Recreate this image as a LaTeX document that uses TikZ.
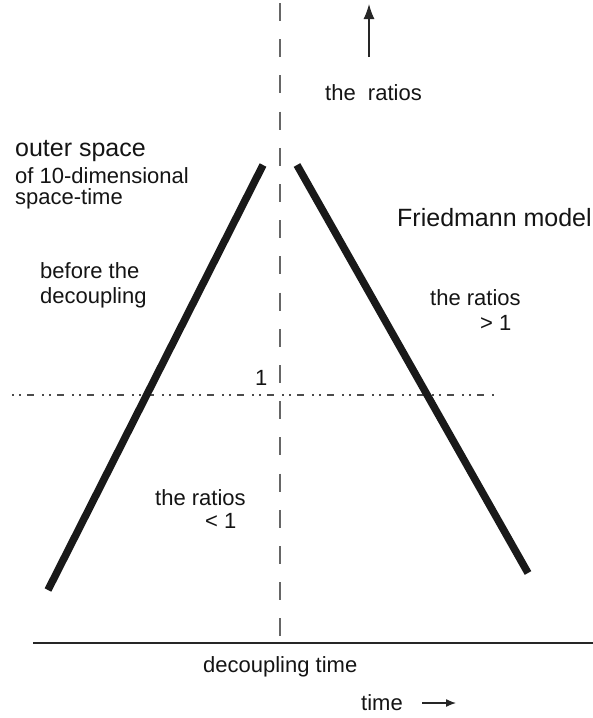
\documentclass[tikz,border=0pt]{standalone}
\usepackage{fontspec}
\setmainfont{Liberation Sans}
\usetikzlibrary{arrows.meta}
\begin{document}
\begin{tikzpicture}[x=1pt,y=-1pt,
  lbl/.style={anchor=base west,inner sep=0pt,font=\fontsize{22}{24}\selectfont,text=black!92},
  biglbl/.style={lbl,font=\fontsize{25}{28}\selectfont},
  thick line/.style={line width=7.5pt,black!90},
  axis dash/.style={line width=1.5pt,black!60,dash pattern=on 18pt off 18.2pt},
  dashdot/.style={line width=1.4pt,black!70,dash pattern=on 1.5pt off 5.5pt on 1.5pt off 6.5pt on 7pt off 8pt},
  baseline line/.style={line width=1.3pt,black!85},
  arrowline/.style={line width=1.3pt,black!85}]
\useasboundingbox (0,0) rectangle (593,718);
% coordinates
\coordinate (vtop) at (280,3);
\coordinate (vbot) at (280,636);
\coordinate (hleft) at (12,395);
\coordinate (hright) at (495,395);
\coordinate (bl) at (33,643);
\coordinate (br) at (593,643);
\coordinate (L1) at (48,590);
\coordinate (L2) at (263,165);
\coordinate (R1) at (297,165);
\coordinate (R2) at (528,573);
\coordinate (ua1) at (369,57);
\coordinate (ua2) at (369,4);
\coordinate (ta1) at (422,703);
\coordinate (ta2) at (456,703);
% lines
\draw[axis dash] (vtop) -- (vbot);
\draw[dashdot] (hleft) -- (hright);
\draw[baseline line] (bl) -- (br);
\draw[thick line] (L1) -- (L2);
\draw[thick line] (R1) -- (R2);
\draw[arrowline,-{Latex[length=15pt,width=11pt]}] (ua1) -- (ua2);
\draw[arrowline,-{Latex[length=10pt,width=8pt]}] (ta1) -- (ta2);
% texts
\node[lbl] (toplbl) at (325,100) {the\ \ ratios};
\node[biglbl] (outer) at (15,156) {outer space};
\node[lbl] (ten) at (15,183) {of 10-dimensional};
\node[lbl] (st) at (15,204) {space-time};
\node[lbl] (bef) at (40,278) {before the};
\node[lbl] (dec) at (40,303) {decoupling};
\node[biglbl] (fried) at (397,226) {Friedmann model};
\node[lbl] (rr) at (430,305) {the ratios};
\node[lbl] (gt) at (480,330) {> 1};
\node[lbl] (one) at (255,385) {1};
\node[lbl] (lr) at (155,505) {the ratios};
\node[lbl] (lt) at (205,528) {< 1};
\node[lbl] (dtime) at (203,672) {decoupling time};
\node[lbl] (time) at (361,710) {time};
\end{tikzpicture}
\end{document}
